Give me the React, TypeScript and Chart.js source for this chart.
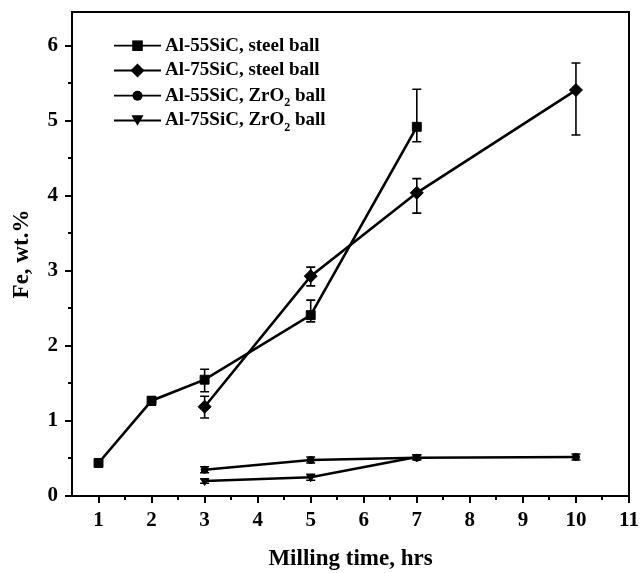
import React, { useEffect, useRef } from 'react';
import { Chart, registerables } from 'chart.js';

Chart.register(...registerables);

// Milling time (hrs) and Fe content (wt.%) with error bar limits
const timeSteel55 = [1, 2, 3, 5, 7];
const feSteel55 = [0.44, 1.27, 1.55, 2.41, 4.92];
const lowSteel55 = [0.41, 1.21, 1.39, 2.32, 4.72];
const highSteel55 = [0.47, 1.32, 1.69, 2.61, 5.42];

const timeSteel75 = [3, 5, 7, 10];
const feSteel75 = [1.19, 2.93, 4.04, 5.41];
const lowSteel75 = [1.04, 2.8, 3.77, 4.81];
const highSteel75 = [1.33, 3.05, 4.23, 5.77];

const timeZr55 = [3, 5, 7, 10];
const feZr55 = [0.35, 0.48, 0.51, 0.52];
const lowZr55 = [0.31, 0.44, 0.48, 0.48];
const highZr55 = [0.39, 0.52, 0.55, 0.56];

const timeZr75 = [3, 5, 7];
const feZr75 = [0.2, 0.25, 0.52];
const lowZr75 = [0.17, 0.21, 0.49];
const highZr75 = [0.23, 0.29, 0.55];

const seriesLabels = [
  'Al-55SiC, steel ball',
  'Al-75SiC, steel ball',
  'Al-55SiC, ZrO₂ ball',
  'Al-75SiC, ZrO₂ ball',
];

const xTicks = [1, 2, 3, 4, 5, 6, 7, 8, 9, 10, 11];
const yTicks = [0, 1, 2, 3, 4, 5, 6];
const xTitle = 'Milling time, hrs';
const yTitle = 'Fe, wt.%';

const FONT = "'Liberation Serif', 'DejaVu Serif', serif";

function drawMarker(ctx: CanvasRenderingContext2D, style: string, x: number, y: number, r: number) {
  ctx.beginPath();
  if (style === 'rect') {
    const s = r * Math.SQRT1_2;
    ctx.rect(x - s, y - s, 2 * s, 2 * s);
  } else if (style === 'rectRot') {
    ctx.moveTo(x, y - r);
    ctx.lineTo(x + r, y);
    ctx.lineTo(x, y + r);
    ctx.lineTo(x - r, y);
    ctx.closePath();
  } else if (style === 'circle') {
    ctx.arc(x, y, r, 0, Math.PI * 2);
  } else {
    const h = r * 1.5;
    ctx.moveTo(x - r * 0.87, y - h / 2);
    ctx.lineTo(x + r * 0.87, y - h / 2);
    ctx.lineTo(x, y + h / 2);
    ctx.closePath();
  }
  ctx.fill();
}

export default function App() {
  const ref = useRef<HTMLCanvasElement>(null);

  useEffect(() => {
    document.body.style.margin = '0';
    const canvas = ref.current!;
    const mk = (xs: number[], ys: number[]) => xs.map((x, i) => ({ x, y: ys[i] }));

    const base = [
      { data: mk(timeSteel55, feSteel55), pointStyle: 'rect', pointRadius: 6.3, errLow: lowSteel55, errHigh: highSteel55 },
      { data: mk(timeSteel75, feSteel75), pointStyle: 'rectRot', pointRadius: 6.5, errLow: lowSteel75, errHigh: highSteel75 },
      { data: mk(timeZr55, feZr55), pointStyle: 'circle', pointRadius: 3.5, errLow: lowZr55, errHigh: highZr55 },
      { data: mk(timeZr75, feZr75), pointStyle: 'triangle', pointRotation: 180, pointRadius: 4.5, errLow: lowZr75, errHigh: highZr75 },
    ];
    const datasets = base.map((d, i) => ({
      ...d,
      label: seriesLabels[i],
      borderColor: '#000',
      backgroundColor: '#000',
      pointBackgroundColor: '#000',
      pointBorderColor: '#000',
      pointBorderWidth: 1,
      borderWidth: 2.6,
      showLine: true,
      tension: 0,
      fill: false,
    }));

    const legendStyles = ['rect', 'rectRot', 'circle', 'triangle'];
    const legendSizes = [7.5, 7, 5, 7];

    const zeroPad = (s: any) => {
      s.paddingLeft = 0;
      s.paddingRight = 0;
      s.paddingTop = 0;
      s.paddingBottom = 0;
    };

    const customPlugin = {
      id: 'custom',
      afterDatasetsDraw(chart: any) {
        const { ctx, scales } = chart;
        const xs = scales.x, ys = scales.y;
        ctx.save();
        ctx.strokeStyle = '#000';
        ctx.lineWidth = 1.6;
        chart.data.datasets.forEach((ds: any) => {
          ds.data.forEach((p: any, i: number) => {
            const px = xs.getPixelForValue(p.x);
            const yl = ys.getPixelForValue(ds.errLow[i]);
            const yh = ys.getPixelForValue(ds.errHigh[i]);
            ctx.beginPath();
            ctx.moveTo(px, yl);
            ctx.lineTo(px, yh);
            ctx.moveTo(px - 4.5, yl);
            ctx.lineTo(px + 4.5, yl);
            ctx.moveTo(px - 4.5, yh);
            ctx.lineTo(px + 4.5, yh);
            ctx.stroke();
          });
        });
        ctx.restore();
      },
      afterDraw(chart: any) {
        const { ctx, chartArea, scales } = chart;
        const xs = scales.x, ys = scales.y;
        const { left, right, top, bottom } = chartArea;
        ctx.save();
        ctx.strokeStyle = '#000';
        ctx.lineWidth = 2;
        ctx.strokeRect(left, top, right - left, bottom - top);
        ctx.beginPath();
        for (let v = 1; v <= 11.001; v += 0.5) {
          const px = Math.round(xs.getPixelForValue(v));
          const len = Number.isInteger(v) ? 7 : 4;
          ctx.moveTo(px, bottom);
          ctx.lineTo(px, bottom + len);
        }
        for (let v = 0; v <= 6.001; v += 0.5) {
          const py = Math.round(ys.getPixelForValue(v));
          const len = Number.isInteger(v) ? 7 : 4;
          ctx.moveTo(left, py);
          ctx.lineTo(left - len, py);
        }
        ctx.stroke();

        // legend
        const x0 = 114, x1 = 161, tx = 165;
        const rows = [45.7, 70.5, 95.7, 120.5];
        ctx.fillStyle = '#000';
        seriesLabels.forEach((lab, i) => {
          const y = rows[i];
          ctx.lineWidth = 1.8;
          ctx.beginPath();
          ctx.moveTo(x0, y);
          ctx.lineTo(x1, y);
          ctx.stroke();
          drawMarker(ctx, legendStyles[i], (x0 + x1) / 2, y, legendSizes[i]);
          ctx.textBaseline = 'middle';
          ctx.textAlign = 'left';
          ctx.font = `bold 19px ${FONT}`;
          const parts = lab.split('₂');
          let cx = tx;
          ctx.fillText(parts[0], cx, y);
          if (parts.length > 1) {
            cx += ctx.measureText(parts[0]).width;
            ctx.font = `bold 12px ${FONT}`;
            ctx.fillText('2', cx, y + 7);
            cx += ctx.measureText('2').width;
            ctx.font = `bold 19px ${FONT}`;
            ctx.fillText(parts[1], cx, y);
          }
        });
        ctx.restore();
      },
    };

    const chart = new Chart(canvas, {
      type: 'line',
      data: { datasets: datasets as any },
      options: {
        animation: false,
        responsive: false,
        maintainAspectRatio: false,
        layout: { padding: { top: 12, right: 13, left: 0, bottom: 0 } },
        plugins: { legend: { display: false }, tooltip: { enabled: false } },
        scales: {
          x: {
            type: 'linear',
            min: 0.5,
            max: 11,
            grid: { display: false, drawTicks: false },
            border: { display: false },
            afterBuildTicks: (s: any) => { s.ticks = xTicks.map((v) => ({ value: v })); },
            afterFit: (s: any) => { s.height = 77; zeroPad(s); },
            ticks: {
              autoSkip: false,
              maxRotation: 0,
              color: '#000',
              padding: 12,
              font: { family: FONT, size: 21, weight: 'bold' },
            },
            title: {
              display: true,
              text: xTitle,
              color: '#000',
              font: { family: FONT, size: 23, weight: 'bold' },
              padding: { top: 0, bottom: 0 },
            },
          },
          y: {
            type: 'linear',
            min: 0,
            max: 6.45,
            grid: { display: false, drawTicks: false },
            border: { display: false },
            afterBuildTicks: (s: any) => { s.ticks = yTicks.map((v) => ({ value: v })); },
            afterFit: (s: any) => { s.width = 72; zeroPad(s); },
            ticks: {
              color: '#000',
              padding: 14,
              font: { family: FONT, size: 21, weight: 'bold' },
            },
            title: {
              display: true,
              text: yTitle,
              color: '#000',
              font: { family: FONT, size: 23, weight: 'bold' },
              padding: { top: 8, bottom: 0 },
            },
          },
        },
      } as any,
      plugins: [customPlugin],
    });
    return () => chart.destroy();
  }, []);

  return <canvas ref={ref} width={642} height={573} style={{ display: 'block' }} />;
}
